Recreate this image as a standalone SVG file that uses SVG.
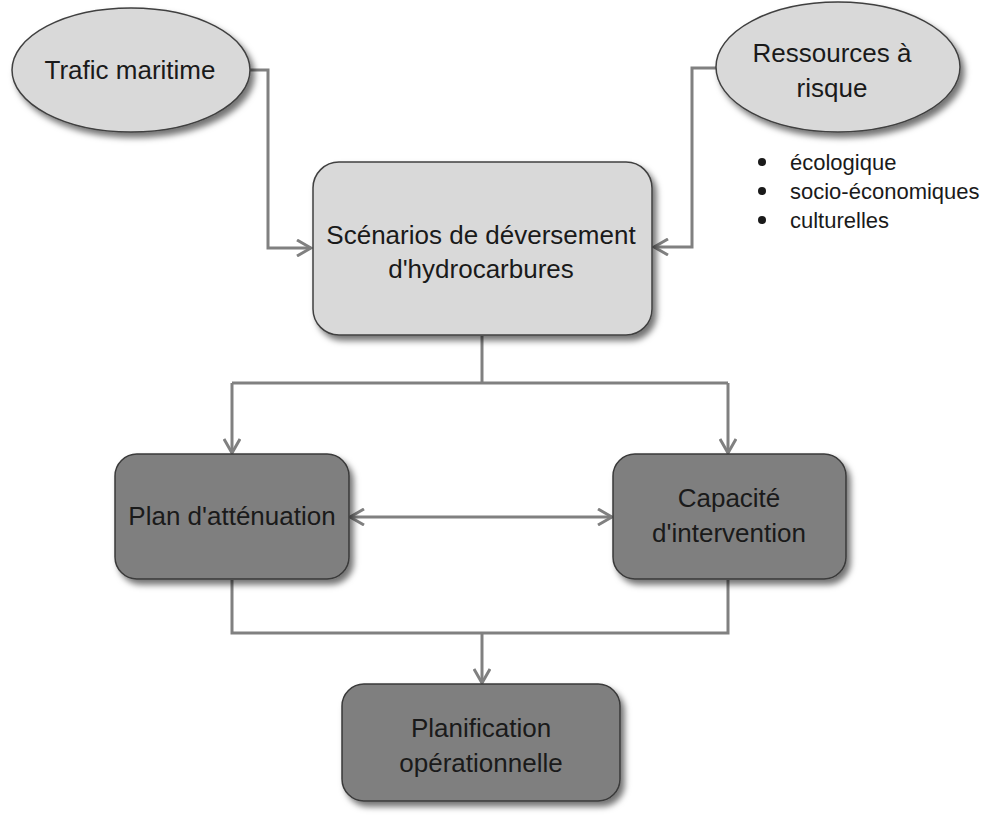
<svg xmlns="http://www.w3.org/2000/svg" width="987" height="815" viewBox="0 0 987 815">
<style>
.lbl{font-family:"Liberation Sans",Arial,sans-serif;font-size:26px;fill:#1a1a1a;text-anchor:middle}
.blt{font-family:"Liberation Sans",Arial,sans-serif;font-size:22px;fill:#1a1a1a}
.light{fill:#d9d9d9;stroke:#404040;stroke-width:1.5}
.dark{fill:#7f7f7f;stroke:#3a3a3a;stroke-width:1.5}
.conn{fill:none;stroke:#808080;stroke-width:3}
</style>
<defs>
<filter id="sh" x="-20%" y="-20%" width="140%" height="150%">
<feDropShadow dx="4" dy="5" stdDeviation="3" flood-color="#000" flood-opacity="0.55"/>
</filter>
<marker id="arr" viewBox="0 0 18 18" refX="16" refY="9" markerWidth="18" markerHeight="18" markerUnits="userSpaceOnUse" orient="auto-start-reverse">
<path d="M2,1 L16,9 L2,17" fill="none" stroke="#808080" stroke-width="3"/>
</marker>
</defs>
<rect width="987" height="815" fill="#fff"/>
<g id="connectors">
<path class="conn" d="M250,70 H268 V248 H311" marker-end="url(#arr)"/>
<path class="conn" d="M716,68 H692 V247 H654" marker-end="url(#arr)"/>
<path class="conn" d="M482,336 V383"/>
<path class="conn" d="M232,383 H728"/>
<path class="conn" d="M232,383 V453" marker-end="url(#arr)"/>
<path class="conn" d="M728,383 V453" marker-end="url(#arr)"/>
<path class="conn" d="M350,517 H612" marker-start="url(#arr)" marker-end="url(#arr)"/>
<path class="conn" d="M232,580 V633 H728 V580"/>
<path class="conn" d="M482,633 V683" marker-end="url(#arr)"/>
</g>
<g id="trafic">
<ellipse class="light" cx="131" cy="70" rx="119" ry="62" filter="url(#sh)"/>
<text class="lbl" x="130" y="79">Trafic maritime</text>
</g>
<g id="ressources">
<ellipse class="light" cx="838" cy="67" rx="122" ry="65" filter="url(#sh)"/>
<text class="lbl" x="832" y="62">Ressources à</text>
<text class="lbl" x="832" y="97">risque</text>
</g>
<g id="bullets">
<circle cx="762" cy="162" r="4" fill="#1a1a1a"/>
<circle cx="762" cy="191" r="4" fill="#1a1a1a"/>
<circle cx="762" cy="220" r="4" fill="#1a1a1a"/>
<text class="blt" x="790" y="170">écologique</text>
<text class="blt" x="790" y="199">socio-économiques</text>
<text class="blt" x="790" y="228">culturelles</text>
</g>
<g id="scenarios">
<rect class="light" x="313" y="162" width="339" height="173" rx="26" filter="url(#sh)"/>
<text class="lbl" x="481" y="244">Scénarios de déversement</text>
<text class="lbl" x="481" y="278">d'hydrocarbures</text>
</g>
<g id="plan">
<rect class="dark" x="115" y="454" width="234" height="125" rx="22" filter="url(#sh)"/>
<text class="lbl" x="232" y="525">Plan d'atténuation</text>
</g>
<g id="capacite">
<rect class="dark" x="613" y="454" width="233" height="125" rx="22" filter="url(#sh)"/>
<text class="lbl" x="729" y="507">Capacité</text>
<text class="lbl" x="729" y="542">d'intervention</text>
</g>
<g id="planification">
<rect class="dark" x="342" y="684" width="278" height="117" rx="22" filter="url(#sh)"/>
<text class="lbl" x="481" y="737">Planification</text>
<text class="lbl" x="481" y="772">opérationnelle</text>
</g>
</svg>
